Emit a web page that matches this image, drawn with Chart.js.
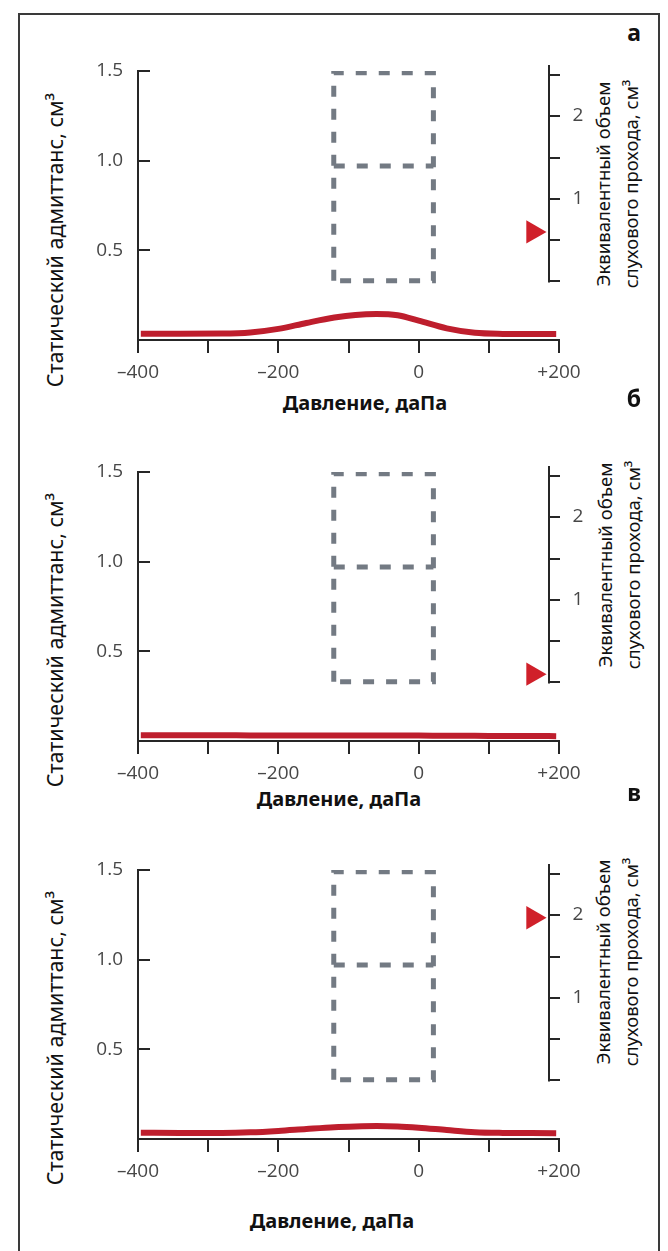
<!DOCTYPE html>
<html>
<head>
<meta charset="utf-8">
<script src="https://cdn.jsdelivr.net/npm/chart.js@4.4.1/dist/chart.umd.min.js"></script>
<style>
  body { margin: 0; background: #fff; }
  #page { position: relative; width: 668px; height: 1251px; overflow: hidden; background: #fff; }
  #frame { position: absolute; left: 18px; top: 13px; width: 642px; height: 1260px; box-sizing: border-box; border: 2px solid #3a3a3a; }
  canvas { position: absolute; left: 0; }
  .txt { position: absolute; white-space: nowrap; color: #111; font-family: "Noto Sans", sans-serif; transform: translate(-50%, -50%); }
  .rot { transform: translate(-50%, -50%) rotate(-90deg); }
  .ytitle { font-size: 21.5px; }
  .rtitle { font-size: 18.5px; line-height: 28px; text-align: center; }
  .xtitle { font-size: 20px; font-weight: bold; }
  .letter { font-size: 23px; font-weight: bold; }
</style>
</head>
<body>
<div id="page"><div id="frame"></div></div>
<script>
// pressure, daPa
var pressure = [-396, -340, -280, -240, -200, -160, -120, -90, -60, -30, 0, 40, 80, 120, 160, 196];
// static admittance, cm3 (panels а, б, в)
var admittanceA = [0.035, 0.035, 0.036, 0.042, 0.062, 0.095, 0.125, 0.140, 0.145, 0.138, 0.108, 0.065, 0.040, 0.034, 0.033, 0.033];
var admittanceB = [0.032, 0.032, 0.032, 0.031, 0.031, 0.031, 0.030, 0.030, 0.030, 0.030, 0.030, 0.029, 0.029, 0.028, 0.028, 0.027];
var admittanceC = [0.035, 0.034, 0.034, 0.037, 0.045, 0.056, 0.066, 0.070, 0.072, 0.070, 0.063, 0.050, 0.038, 0.034, 0.033, 0.032];
// equivalent ear canal volume, cm3 (red marker)
var canalVolume = [0.6, 0.1, 1.97];
var markerPressure = 163;

// dashed normal-range box
var boxX = [-121, 21];
var boxY = [0.33, 0.97, 1.49];

var xTicks = [-400, -300, -200, -100, 0, 100, 200];
var xTickLabels = ['–400', '', '–200', '', '0', '', '+200'];
var yTicks = [0, 0.5, 1, 1.5];
var yTickLabels = ['', '0.5', '1.0', '1.5'];
var rightTicks = [0, 0.5, 1, 1.5, 2, 2.5];
var rightTickLabels = ['', '', '1', '', '2', ''];
var rightAxisAt = 186;
var rightAxisTop = 2.62;

var panelLetters = ['а', 'б', 'в'];
var xTitle = 'Давление, даПа';
var yTitle = 'Статический адмиттанс, см³';
var rightTitle = ['Эквивалентный объем', 'слухового прохода, см³'];

// layout (px)
var chartTops = [71, 472, 870];
var xTitlePos = [[365, 402], [339, 798], [332, 1220]];
var yTitlePos = [[54, 240], [54, 640], [54, 1038]];
var rightTitlePos = [[617, 184], [619, 565], [617, 962]];
var letterPos = [[634, 32], [634, 398], [634, 792]];

var RED = '#be1e2d';
var AXIS = '#262626';
var TICKTXT = '#474747';
var BOX = '#737a83';

var MainScriptClass = function () {
  var page = document.getElementById('page');

  this.init = function () {
    var series = [admittanceA, admittanceB, admittanceC];
    for (var i = 0; i < 3; i++) {
      addTexts(i);
      initPanel(i, series[i]);
    }
  };

  var addText = function (cls, html, pos) {
    var d = document.createElement('div');
    d.className = 'txt ' + cls;
    d.innerHTML = html;
    d.style.left = pos[0] + 'px';
    d.style.top = pos[1] + 'px';
    page.appendChild(d);
  };

  var addTexts = function (i) {
    addText('xtitle', xTitle, xTitlePos[i]);
    addText('ytitle rot', yTitle, yTitlePos[i]);
    addText('rtitle rot', rightTitle.join('<br>'), rightTitlePos[i]);
    addText('letter', panelLetters[i], letterPos[i]);
  };

  // inner ticks of the left axis and the separate right axis
  var axesPlugin = {
    id: 'axesExtra',
    afterDraw: function (chart) {
      var ctx = chart.ctx;
      var x = chart.scales.x, y = chart.scales.y, y2 = chart.scales.y2;
      var j, py;
      ctx.save();
      ctx.strokeStyle = AXIS;
      ctx.lineWidth = 2;
      for (j = 1; j < yTicks.length; j++) {
        py = Math.round(y.getPixelForValue(yTicks[j]));
        ctx.beginPath();
        ctx.moveTo(x.left, py);
        ctx.lineTo(x.left + 12, py);
        ctx.stroke();
      }
      var ax = Math.round(x.getPixelForValue(rightAxisAt));
      ctx.beginPath();
      ctx.moveTo(ax, y2.getPixelForValue(rightAxisTop));
      ctx.lineTo(ax, y2.getPixelForValue(0) + 1);
      ctx.stroke();
      ctx.fillStyle = TICKTXT;
      ctx.font = '19px "Open Sans"';
      ctx.textAlign = 'center';
      ctx.textBaseline = 'middle';
      for (j = 0; j < rightTicks.length; j++) {
        py = Math.round(y2.getPixelForValue(rightTicks[j]));
        ctx.beginPath();
        ctx.moveTo(ax, py);
        ctx.lineTo(ax + 11, py);
        ctx.stroke();
        if (rightTickLabels[j]) ctx.fillText(rightTickLabels[j], ax + 29, py);
      }
      ctx.restore();
    }
  };

  var initPanel = function (i, values) {
    var canvas = document.createElement('canvas');
    canvas.width = 668;
    canvas.height = 420;
    canvas.style.top = (chartTops[i] - 60) + 'px';
    page.appendChild(canvas);

    var curve = [];
    for (var k = 0; k < pressure.length; k++) {
      curve.push({ x: pressure[k], y: values[k] });
    }
    var box = [
      { x: boxX[0], y: boxY[0] }, { x: boxX[0], y: boxY[2] }, { x: boxX[1], y: boxY[2] },
      { x: boxX[1], y: boxY[0] }, { x: boxX[0], y: boxY[0] }, { x: boxX[0], y: null },
      { x: boxX[0], y: boxY[1] }, { x: boxX[1], y: boxY[1] }
    ];

    new Chart(canvas.getContext('2d'), {
      type: 'line',
      data: {
        datasets: [{
          data: box,
          borderColor: BOX,
          borderWidth: 5,
          borderDash: [11, 12],
          borderCapStyle: 'butt',
          pointRadius: 0,
          tension: 0,
          spanGaps: false
        }, {
          data: curve,
          borderColor: RED,
          borderWidth: 6,
          pointRadius: 0,
          cubicInterpolationMode: 'monotone'
        }, {
          type: 'scatter',
          yAxisID: 'y2',
          data: [{ x: markerPressure, y: canalVolume[i] }],
          pointStyle: 'triangle',
          rotation: 90,
          radius: 13.5,
          backgroundColor: '#d0202a',
          borderWidth: 0
        }]
      },
      options: {
        responsive: false,
        animation: false,
        devicePixelRatio: 1,
        layout: { padding: { left: 78, right: 109, top: 60, bottom: 41 } },
        plugins: { legend: { display: false }, tooltip: { enabled: false } },
        scales: {
          x: {
            type: 'linear',
            min: -400,
            max: 200,
            afterBuildTicks: function (s) { s.ticks = xTicks.map(function (v) { return { value: v }; }); },
            afterFit: function (s) { s.height = 50; },
            ticks: {
              autoSkip: false,
              maxRotation: 0,
              padding: 8,
              color: TICKTXT,
              font: { family: 'Open Sans', size: 19 },
              callback: function (v, idx) { return xTickLabels[idx]; }
            },
            grid: { display: true, drawOnChartArea: false, drawTicks: true, tickLength: 13, lineWidth: 2, color: AXIS },
            border: { display: true, width: 2, color: AXIS }
          },
          y: {
            type: 'linear',
            position: 'left',
            min: 0,
            max: 1.5,
            afterBuildTicks: function (s) { s.ticks = yTicks.map(function (v) { return { value: v }; }); },
            afterFit: function (s) { s.width = 60; },
            ticks: {
              padding: 15,
              color: TICKTXT,
              font: { family: 'Open Sans', size: 19 },
              callback: function (v, idx) { return yTickLabels[idx]; }
            },
            grid: { display: false, drawTicks: false },
            border: { display: true, width: 2, color: AXIS }
          },
          y2: {
            type: 'linear',
            position: 'right',
            display: false,
            min: -0.709,
            max: 2.548
          }
        }
      },
      plugins: [axesPlugin]
    });
  };
};
window['mainScript'] = new MainScriptClass();
window['mainScript'].init();
</script>
</body>
</html>
